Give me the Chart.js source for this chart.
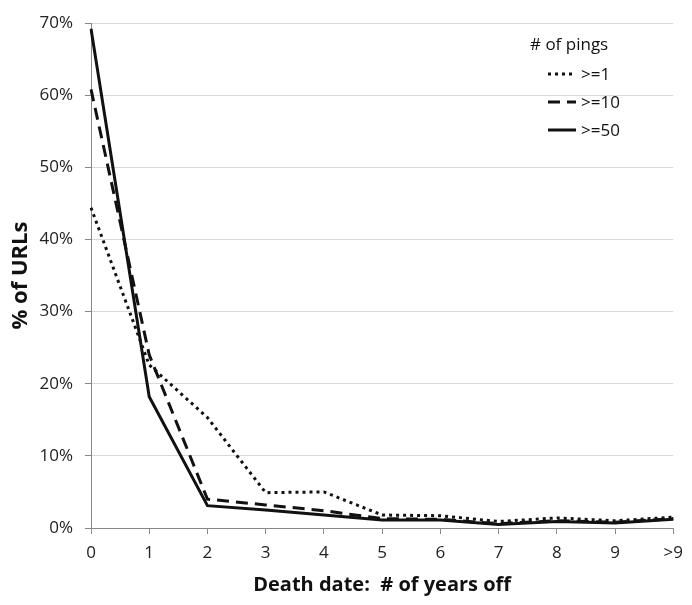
<!DOCTYPE html>
<html>
<head>
<meta charset="utf-8">
<script src="https://cdn.jsdelivr.net/npm/chart.js@4.4.1/dist/chart.umd.min.js"></script>
<style>
  html, body { margin: 0; padding: 0; background: #fff; }
  #wrap { width: 692px; height: 605px; }
</style>
</head>
<body>
<div id="wrap"><canvas id="pingChart"></canvas></div>
<script>
// years off between predicted and actual death date
const yearLabels = ['0', '1', '2', '3', '4', '5', '6', '7', '8', '9', '>9'];

// % of URLs, by minimum number of pings
const pings1 = [44.4, 22.6, 15.3, 4.9, 5.0, 1.8, 1.7, 0.9, 1.4, 1.0, 1.5];
const pings10 = [60.8, 24.0, 4.0, 3.2, 2.4, 1.3, 1.2, 0.6, 1.0, 0.8, 1.3];
const pings50 = [69.2, 18.2, 3.1, 2.5, 1.8, 1.1, 1.1, 0.5, 0.9, 0.7, 1.2];

const seriesNames = ['>=1', '>=10', '>=50'];
const legendTitle = '# of pings';

const FONT = '"Open Sans", "DejaVu Sans", sans-serif';

// legend drawn inside the plot, top right, like the original
const pingLegend = {
    id: 'pingLegend',
    afterDraw(chart) {
        const ctx = chart.ctx;
        const x0 = 548, lineLen = 28, textX = 581;
        ctx.save();
        ctx.fillStyle = '#111';
        ctx.textBaseline = 'middle';
        ctx.font = '17px ' + FONT;
        ctx.textAlign = 'left';
        ctx.fillText(legendTitle, 530, 45);
        chart.data.datasets.forEach((ds, i) => {
            const y = 74 + i * 28;
            ctx.beginPath();
            ctx.strokeStyle = ds.borderColor;
            ctx.lineWidth = ds.borderWidth;
            ctx.setLineDash(ds.borderDash || []);
            ctx.moveTo(x0, y);
            ctx.lineTo(x0 + lineLen, y);
            ctx.stroke();
            ctx.setLineDash([]);
            ctx.fillText(ds.label, textX, y + 1);
        });
        ctx.restore();
    }
};

document.addEventListener('DOMContentLoaded', function () {
    const ctx = document.getElementById('pingChart').getContext('2d');
    new Chart(ctx, {
        type: 'line',
        data: {
            labels: yearLabels,
            datasets: [{
                label: seriesNames[0],
                data: pings1,
                borderColor: '#111',
                borderWidth: 3,
                borderDash: [3, 4],
                pointRadius: 0,
                tension: 0,
                fill: false
            }, {
                label: seriesNames[1],
                data: pings10,
                borderColor: '#111',
                borderWidth: 3,
                borderDash: [12, 7],
                pointRadius: 0,
                tension: 0,
                fill: false
            }, {
                label: seriesNames[2],
                data: pings50,
                borderColor: '#111',
                borderWidth: 3,
                pointRadius: 0,
                tension: 0,
                fill: false
            }]
        },
        options: {
            responsive: true,
            maintainAspectRatio: false,
            animation: false,
            layout: {
                padding: { top: 23, right: 12, left: 8, bottom: 0 }
            },
            scales: {
                x: {
                    type: 'category',
                    offset: false,
                    grid: {
                        display: true,
                        drawOnChartArea: false,
                        drawTicks: true,
                        tickLength: 6,
                        color: '#888'
                    },
                    border: { color: '#888', width: 1 },
                    ticks: {
                        color: '#222',
                        padding: 9,
                        maxRotation: 0,
                        autoSkip: false,
                        font: { family: FONT, size: 17 }
                    },
                    title: {
                        display: true,
                        text: 'Death date:  # of years off',
                        color: '#111',
                        padding: { top: 1, bottom: 8 },
                        font: { family: FONT, size: 20, weight: 'bold' }
                    },
                    afterFit(scale) { scale.height = 77; }
                },
                y: {
                    min: 0,
                    max: 70,
                    grid: {
                        color: '#d9d9d9',
                        lineWidth: 1,
                        tickLength: 6,
                        tickColor: '#888'
                    },
                    border: { color: '#888', width: 1 },
                    ticks: {
                        stepSize: 10,
                        color: '#222',
                        padding: 12,
                        font: { family: FONT, size: 17 },
                        callback: function (value) { return value + '%'; }
                    },
                    title: {
                        display: true,
                        text: '% of URLs',
                        color: '#111',
                        padding: { top: 0, bottom: 0 },
                        font: { family: FONT, size: 22, weight: 'bold' }
                    },
                    afterFit(scale) { scale.width = 83; }
                }
            },
            plugins: {
                legend: { display: false },
                tooltip: { enabled: false }
            }
        },
        plugins: [pingLegend]
    });
});
</script>
</body>
</html>
